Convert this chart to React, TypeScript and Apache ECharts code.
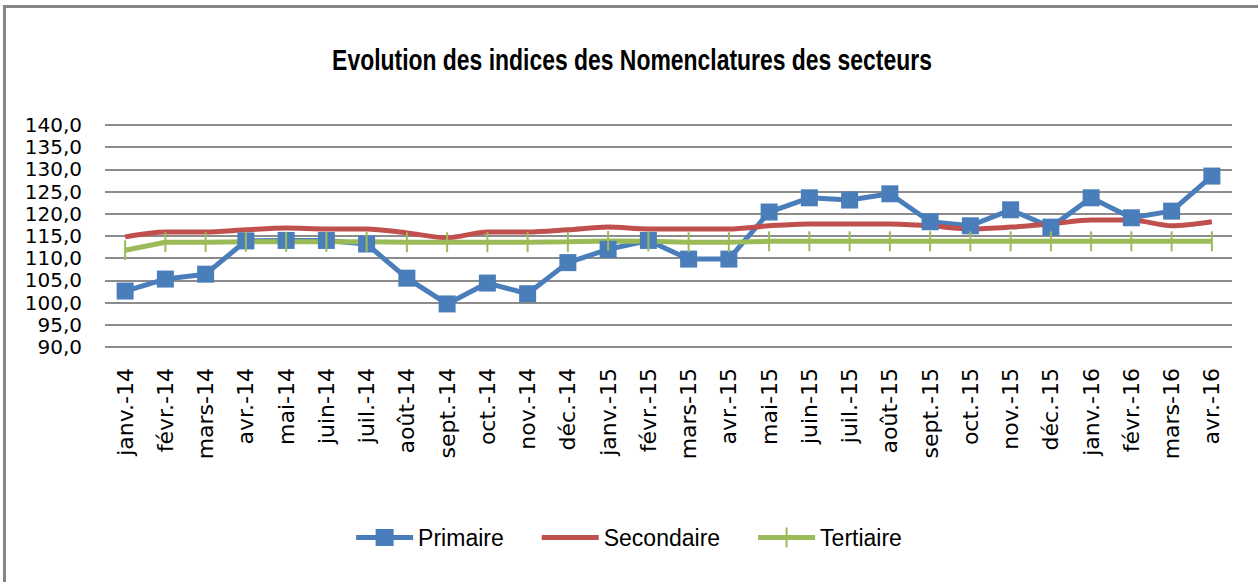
import React, { useEffect, useRef } from "react";
import * as echarts from "echarts";

const categories = [
  "janv.-14", "févr.-14", "mars-14", "avr.-14", "mai-14", "juin-14", "juil.-14", "août-14",
  "sept.-14", "oct.-14", "nov.-14", "déc.-14", "janv.-15", "févr.-15", "mars-15", "avr.-15",
  "mai-15", "juin-15", "juil.-15", "août-15", "sept.-15", "oct.-15", "nov.-15", "déc.-15",
  "janv.-16", "févr.-16", "mars-16", "avr.-16",
];

const primaire = [
  102.6, 105.3, 106.4, 113.9, 114.0, 114.0, 113.2, 105.5, 99.7, 104.4, 102.0, 109.0,
  112.0, 114.0, 109.8, 109.8, 120.4, 123.6, 123.1, 124.5, 118.2, 117.3, 120.9, 117.0,
  123.6, 119.1, 120.6, 128.5,
];

const secondaire = [
  114.8, 115.9, 115.9, 116.4, 116.8, 116.6, 116.6, 115.7, 114.6, 115.9, 115.9, 116.4,
  117.0, 116.6, 116.6, 116.6, 117.3, 117.7, 117.7, 117.7, 117.3, 116.6, 117.0, 117.7,
  118.6, 118.6, 117.3, 118.2,
];

const tertiaire = [
  111.8, 113.6, 113.6, 113.7, 113.7, 113.7, 113.7, 113.6, 113.6, 113.6, 113.6, 113.7,
  113.9, 113.8, 113.6, 113.6, 113.8, 113.8, 113.8, 113.8, 113.8, 113.8, 113.8, 113.8,
  113.8, 113.8, 113.8, 113.8,
];

const yTicks = { min: 90, max: 140, interval: 5 };

const TITLE = "Evolution des indices des Nomenclatures des secteurs";
const SANS = "'Liberation Sans', Arial, sans-serif";

// legend icons, each with a 57x20 bounding box (tiny corner specks fix the box)
const SPECKS = " M0,0 L0.05,0 L0,0.05 Z M57,20 L56.95,20 L57,19.95 Z";
const ICON_PRIMAIRE = "path://M0,7.5 L57,7.5 L57,12.5 L0,12.5 Z M19.5,1.5 L37.5,1.5 L37.5,18.5 L19.5,18.5 Z" + SPECKS;
const ICON_SECONDAIRE = "path://M0,7.5 L57,7.5 L57,12.5 L0,12.5 Z" + SPECKS;
const ICON_TERTIAIRE = "path://M0,7.5 L57,7.5 L57,12.5 L0,12.5 Z M27.5,0 L29.5,0 L29.5,20 L27.5,20 Z" + SPECKS;

export default function App() {
  const ref = useRef<HTMLDivElement>(null);
  useEffect(() => {
    if (!ref.current) return;
    const chart = echarts.init(ref.current, undefined, { renderer: "svg" });
    chart.setOption({
      animation: false,
      backgroundColor: "#ffffff",
      graphic: [
        { type: "rect", shape: { x: 3, y: 5, width: 1258, height: 3 }, style: { fill: "#868686" }, silent: true },
        { type: "rect", shape: { x: 3, y: 5, width: 3, height: 580 }, style: { fill: "#868686" }, silent: true },
        {
          type: "text",
          x: 632,
          y: 60,
          scaleX: 0.764,
          silent: true,
          style: {
            text: TITLE,
            font: "bold 30px 'Liberation Sans', Arial, sans-serif",
            fill: "#000",
            textAlign: "center",
            textVerticalAlign: "middle",
          },
        },
      ],
      legend: {
        top: 521,
        left: "center",
        itemWidth: 57,
        itemHeight: 20,
        itemGap: 38,
        textStyle: { fontFamily: SANS, fontSize: 23, color: "#000" },
        data: [
          { name: "Primaire", icon: ICON_PRIMAIRE },
          { name: "Secondaire", icon: ICON_SECONDAIRE },
          { name: "Tertiaire", icon: ICON_TERTIAIRE },
        ],
      },
      grid: { left: 105, right: 26, top: 125, bottom: 235, containLabel: false },
      xAxis: {
        type: "category",
        data: categories,
        boundaryGap: true,
        axisLine: { show: false },
        axisTick: { show: false },
        axisLabel: {
          rotate: 90,
          margin: 21,
          interval: 0,
          fontFamily: "'DejaVu Sans', sans-serif",
          fontSize: 22,
          color: "#000",
        },
      },
      yAxis: {
        type: "value",
        min: yTicks.min,
        max: yTicks.max,
        interval: yTicks.interval,
        axisLine: { show: false },
        axisTick: { show: false },
        axisLabel: {
          margin: 23,
          showMinLabel: true,
          showMaxLabel: true,
          hideOverlap: false,
          fontFamily: "'DejaVu Sans', sans-serif",
          fontSize: 20,
          lineHeight: 20,
          color: "#000",
          formatter: (v: number) => v.toFixed(1).replace(".", ","),
        },
        splitLine: { lineStyle: { color: "#8c8c8c", width: 2 } },
      },
      series: [
        {
          name: "Primaire",
          type: "line",
          data: primaire,
          symbol: "rect",
          symbolSize: 17,
          itemStyle: { color: "#4a7ebb" },
          lineStyle: { color: "#4a7ebb", width: 5 },
        },
        {
          name: "Secondaire",
          type: "line",
          data: secondaire,
          symbol: "none",
          smooth: 0.3,
          itemStyle: { color: "#c0504d" },
          lineStyle: { color: "#c0504d", width: 5 },
        },
        {
          name: "Tertiaire",
          type: "line",
          data: tertiaire,
          symbol: "path://M0,0 L1,0 L1,10 L0,10 Z",
          symbolSize: [2, 20],
          itemStyle: { color: "#9bbb59" },
          lineStyle: { color: "#9bbb59", width: 5 },
        },
      ],
    });
    return () => chart.dispose();
  }, []);
  return (
    <div
      ref={ref}
      style={{ position: "absolute", left: 0, top: 0, width: 1258, height: 582, background: "#fff" }}
    />
  );
}
